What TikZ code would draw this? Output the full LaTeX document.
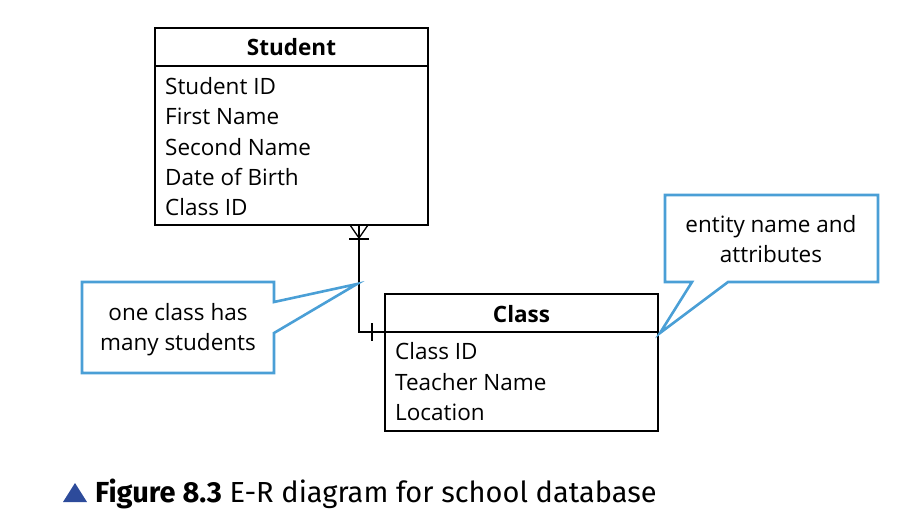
\documentclass[tikz,border=0pt]{standalone}
\usepackage{fontspec}
\setmainfont{Open Sans}
\newfontfamily\capfont{Fira Sans}
\definecolor{callblue}{HTML}{4A9FD6}
\definecolor{tridark}{HTML}{2D4B9B}
\begin{document}
\begin{tikzpicture}[x=1pt,y=-1pt,
  ent/.style={draw=black,line width=1.3pt},
  rel/.style={draw=black,line width=1.3pt},
  callout/.style={draw=callblue,line width=2.6pt,line join=miter},
  txt/.style={inner sep=0pt,font=\fontsize{22.5}{27}\selectfont},
  ttl/.style={inner sep=0pt,font=\fontsize{22.5}{27}\selectfont\bfseries}]
\useasboundingbox (0,0) rectangle (902,531);
% Student entity
\draw[ent] (155,28) rectangle (428,225);
\draw[ent] (155,66) -- (428,66);
\node[ttl,anchor=base] (st) at (291.5,55) {Student};
\node[txt,anchor=base west] (s1) at (165,94) {Student ID};
\node[txt,anchor=base west] (s2) at (165,124.5) {First Name};
\node[txt,anchor=base west] (s3) at (165,155) {Second Name};
\node[txt,anchor=base west] (s4) at (165,185) {Date of Birth};
\node[txt,anchor=base west] (s5) at (165,215.5) {Class ID};
% Class entity
\draw[ent] (385,294) rectangle (658,431);
\draw[ent] (385,332) -- (658,332);
\node[ttl,anchor=base] (ct) at (521.5,322) {Class};
\node[txt,anchor=base west] (c1) at (395,359) {Class ID};
\node[txt,anchor=base west] (c2) at (395,390) {Teacher Name};
\node[txt,anchor=base west] (c3) at (395,420) {Location};
% relationship
\coordinate (sb) at (359,225);
\coordinate (bend) at (359,332);
\coordinate (cl) at (385,332);
\draw[rel] (sb) -- (bend) -- (cl);
\draw[rel] (350,225) -- (359,238) -- (368,225);
\draw[rel] (349,239) -- (369,239);
\draw[rel] (372,323) -- (372,341);
% callout 1
\draw[callout] (82,282) -- (274,282) -- (274,302) -- (357,284) -- (274,333) -- (274,373) -- (82,373) -- cycle;
\node[txt,anchor=base] (k1) at (178,320) {one class has};
\node[txt,anchor=base] (k2) at (178,350) {many students};
% callout 2
\draw[callout] (665,195) -- (878,195) -- (878,282) -- (728,282) -- (660,333) -- (692,282) -- (665,282) -- cycle;
\node[txt,anchor=base] (e1) at (771,232) {entity name and};
\node[txt,anchor=base] (e2) at (771,262) {attributes};
% caption
\fill[tridark] (63,502) -- (75,483) -- (87,502) -- cycle;
\node[inner sep=0pt,anchor=base west,font=\capfont\fontsize{29}{34}\selectfont] (cap) at (95,502) {\textbf{Figure 8.3} E-R diagram for school database};
\end{tikzpicture}
\end{document}
